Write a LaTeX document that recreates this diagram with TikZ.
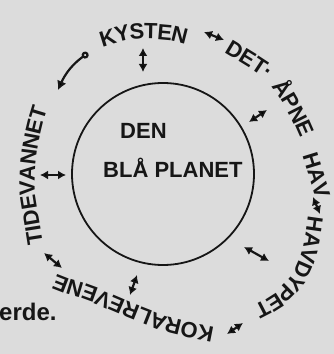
\documentclass[tikz,border=0pt]{standalone}
\usepackage{fontspec}
\setmainfont{Liberation Sans}
\usetikzlibrary{
  arrows.meta,
  decorations.text
}
\definecolor{bpInk}{HTML}{161616}
\definecolor{bpPaper}{HTML}{DCDCDC}
\newcommand{\ringfont}{\fontsize{22}{22}\selectfont\bfseries}
\tikzset{
  planet/.style={draw=bpInk, circle, line width=1.8pt, minimum size=182pt, inner sep=0pt},
  planettext/.style={font=\fontsize{22}{22}\selectfont\bfseries, text=bpInk, anchor=base west, inner sep=0pt},
  ringtext/.style={decorate, decoration={text along path, raise=-8pt, text color=bpInk, text={|\ringfont|#1}}},
  linkarrow/.style={{Latex[length=8pt,width=9pt]}-{Latex[length=8pt,width=9pt]}, line width=2.2pt, draw=bpInk},
  curvearrow/.style={{Latex[length=9pt,width=10pt]}-{Circle[open,length=7pt]}, line width=2.2pt, draw=bpInk},
  noteword/.style={font=\fontsize{24}{24}\selectfont\bfseries, text=bpInk, anchor=base west, inner sep=0pt}
}

\begin{document}
\begin{tikzpicture}[x=1pt, y=1pt]
  \useasboundingbox (0,0) rectangle (334,354);
  \fill[bpPaper] (0,0) rectangle (334,354);
  \clip (0,0) rectangle (334,354);

  % the planet in the middle
  \node[planet] (planet) at (163,180) {};
  \node[planettext] (planettop) at (120,215) {DEN};
  \node[planettext] (planetbot) at (103,176) {BLÅ PLANET};

  % ring of areas, read clockwise
  \path[ringtext=KYSTEN] plot[smooth] coordinates {(100,314) (124,321) (146,323) (167,322) (182,319) (200,313) (212,308)};
  \path[ringtext=DET·] plot[smooth] coordinates {(228,308) (248,296) (262,287) (275,278) (285,268)};
  \path[ringtext=ÅPNE] plot[smooth] coordinates {(278,272) (288,258) (296,244) (303,230) (309,216) (313,204)};
  \path[ringtext=HAV] plot[smooth] coordinates {(310,201) (318,175) (325,152) (330,132)};
  \path[ringtext=HAVDYPET] plot[smooth] coordinates {(316,137) (315,129) (313,116) (310,102) (305,87) (298,73) (288,62) (277,52) (263,44) (250,38) (240,34)};
  \path[ringtext=KORALREVENE] plot[smooth] coordinates {(213,19) (193,23) (167,29) (143,38) (118,48) (90,60) (62,69) (42,78) (26,88)};
  \path[ringtext=TIDEVANNET] plot[smooth] coordinates {(35,109) (31,134) (27,159) (27,184) (30,209) (35,232) (42,254) (50,269)};

  % arrow ends
  \coordinate (kystA) at (143,306);  \coordinate (kystB) at (143,282);
  \coordinate (havA) at (249,232);   \coordinate (havB) at (267,244);
  \coordinate (tideA) at (40,179);   \coordinate (tideB) at (66,179);
  \coordinate (dypA) at (244,107);   \coordinate (dypB) at (269,93);
  \coordinate (koralA) at (137,79);  \coordinate (koralB) at (130,59);
  \coordinate (kdA) at (204,322);    \coordinate (kdB) at (224,314);
  \coordinate (hhA) at (313,157);    \coordinate (hhB) at (320,140);
  \coordinate (hkA) at (243,31);     \coordinate (hkB) at (227,20);
  \coordinate (ktA) at (62,86);      \coordinate (ktB) at (44,101);
  \coordinate (tideTip) at (58,264); \coordinate (kystTip) at (88,301);

  \foreach \a/\b in {kystA/kystB, havA/havB, tideA/tideB, dypA/dypB, koralA/koralB,
                     kdA/kdB, hhA/hhB, hkA/hkB, ktA/ktB}
    \draw[linkarrow] (\a) -- (\b);
  \draw[curvearrow] (tideTip) to[bend left=15] (kystTip);

  \node[noteword] (eword) at (-1,34) {erde.};
\end{tikzpicture}
\end{document}
